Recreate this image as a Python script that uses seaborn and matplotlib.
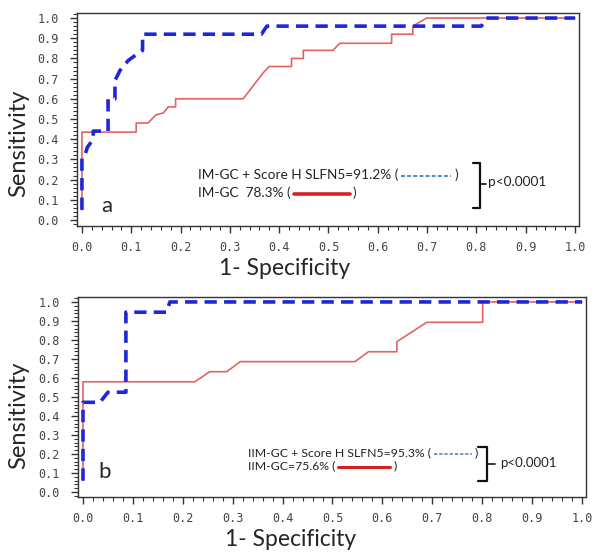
import numpy as np
import pandas as pd
import seaborn as sns
import matplotlib
matplotlib.use("Agg")
import matplotlib.pyplot as plt
from matplotlib.lines import Line2D
from matplotlib.ticker import MultipleLocator, FormatStrFormatter

# ---- data ----
a_blue_x = [0, 0, 0.006, 0.011, 0.023, 0.023, 0.053, 0.053, 0.067, 0.067, 0.077, 0.094, 0.111, 0.123, 0.123, 0.364, 0.375, 0.81, 0.82, 1.0]
a_blue_y = [0.05, 0.31, 0.32, 0.36, 0.40, 0.44, 0.44, 0.60, 0.60, 0.69, 0.74, 0.79, 0.82, 0.84, 0.92, 0.92, 0.96, 0.96, 1.0, 1.0]
a_red_x = [0, 0, 0.11, 0.11, 0.134, 0.15, 0.165, 0.175, 0.19, 0.19, 0.327, 0.368, 0.38, 0.425, 0.425, 0.449, 0.449, 0.509, 0.523, 0.628, 0.628, 0.671, 0.671, 0.699, 1.0]
a_red_y = [0.05, 0.435, 0.435, 0.48, 0.48, 0.52, 0.53, 0.56, 0.56, 0.60, 0.60, 0.73, 0.76, 0.76, 0.80, 0.80, 0.84, 0.84, 0.875, 0.875, 0.92, 0.92, 0.96, 1.0, 1.0]

b_blue_x = [0, 0, 0.034, 0.05, 0.086, 0.086, 0.168, 0.174, 1.0]
b_blue_y = [0.06, 0.472, 0.472, 0.525, 0.525, 0.946, 0.946, 1.0, 1.0]
b_red_x = [0, 0, 0.224, 0.254, 0.288, 0.315, 0.545, 0.572, 0.629, 0.629, 0.689, 0.801, 0.801, 1.0]
b_red_y = [0.06, 0.58, 0.58, 0.633, 0.633, 0.686, 0.686, 0.738, 0.738, 0.791, 0.893, 0.893, 1.0, 1.0]

a_legend = ["IM-GC + Score H SLFN5=91.2% (", "IM-GC  78.3% ("]
b_legend = ["IIM-GC + Score H SLFN5=95.3% (", "IIM-GC=75.6% ("]
p_text = "p<0.0001"
panel_labels = ["a", "b"]
xlabel = "1- Specificity"
ylabel = "Sensitivity"

BLUE = "#1f26d8"
RED = "#e46262"
LEG_BLUE = "#3c82c8"
LEG_RED = "#d42222"

sns.set_style("white")
plt.rcParams["font.family"] = ["Lato", "DejaVu Sans"]

W, H = 602, 557
fig = plt.figure(figsize=(W / 100, H / 100), dpi=100)


def fx(x):
    return x / W


def fy(y):
    return 1 - y / H


def make_df(bx, by, rx, ry):
    d1 = pd.DataFrame({"x": bx, "y": by, "s": "blue", "o": range(len(bx))})
    d2 = pd.DataFrame({"x": rx, "y": ry, "s": "red", "o": range(len(rx))})
    return d1, d2


def setup_axes(rect, xlim, ylim):
    ax = fig.add_axes(rect)
    ax.set_xlim(*xlim)
    ax.set_ylim(*ylim)
    ax.xaxis.set_major_locator(MultipleLocator(0.1))
    ax.xaxis.set_minor_locator(MultipleLocator(0.02))
    ax.yaxis.set_major_locator(MultipleLocator(0.1))
    ax.yaxis.set_minor_locator(MultipleLocator(0.02))
    ax.xaxis.set_major_formatter(FormatStrFormatter("%.1f"))
    ax.yaxis.set_major_formatter(FormatStrFormatter("%.1f"))
    ax.tick_params(which="major", direction="out", length=5, width=1, color="#333333",
                   bottom=True, left=True, labelsize=8.5, labelcolor="#444444")
    ax.tick_params(which="minor", direction="out", length=3, width=0.8, color="#333333",
                   bottom=True, left=True)
    ax.tick_params(axis="x", which="major", pad=6)
    ax.tick_params(axis="y", which="major", pad=8)
    for sp in ax.spines.values():
        sp.set_color("#333333")
        sp.set_linewidth(1.0)
    return ax


def draw_curves(ax, bx, by, rx, ry):
    d1, d2 = make_df(bx, by, rx, ry)
    sns.lineplot(data=d2, x="x", y="y", sort=False, estimator=None, color=RED,
                 linewidth=1.2, ax=ax, legend=False)
    sns.lineplot(data=d1, x="x", y="y", sort=False, estimator=None, color=BLUE,
                 linewidth=2.6, ax=ax, legend=False)
    ax.lines[-1].set_dashes([3.4, 2.0])
    ax.set_xlabel("")
    ax.set_ylabel("")


# panel a
ax1 = setup_axes([fx(77), fy(226), fx(579) - fx(77), fy(13) - fy(226)], (-0.010, 1.008), (-0.030, 1.025))
draw_curves(ax1, a_blue_x, a_blue_y, a_red_x, a_red_y)
# panel b
ax2 = setup_axes([fx(78), fy(497), fx(586) - fx(78), fy(297) - fy(497)], (-0.010, 1.008), (-0.026, 1.026))
draw_curves(ax2, b_blue_x, b_blue_y, b_red_x, b_red_y)

for ax in (ax1, ax2):
    for lab in ax.get_xticklabels() + ax.get_yticklabels():
        lab.set_family("DejaVu Sans Mono")

# axis labels
fig.text(fx(19), fy(143), ylabel, rotation=90, ha="center", va="center", fontsize=17)
fig.text(fx(285), fy(268), xlabel, ha="center", va="center", fontsize=16.5)
fig.text(fx(19), fy(415), ylabel, rotation=90, ha="center", va="center", fontsize=17)
fig.text(fx(291), fy(539), xlabel, ha="center", va="center", fontsize=16.5)

# panel letters
fig.text(fx(107), fy(206), panel_labels[0], ha="center", va="center", fontsize=16)
fig.text(fx(105), fy(472), panel_labels[1], ha="center", va="center", fontsize=16)

fig.canvas.draw()
renderer = fig.canvas.get_renderer()


def legend_line(x0, y, text, size, seglen, color, ls, lw):
    t = fig.text(fx(x0), fy(y), text, ha="left", va="center", fontsize=size, color="#222222")
    bb = t.get_window_extent(renderer)
    xe = bb.x1 / fig.dpi * 100
    l = Line2D([fx(xe + 3), fx(xe + 3 + seglen)], [fy(y + 0.5), fy(y + 0.5)],
               transform=fig.transFigure, color=color, linestyle=ls, linewidth=lw)
    if ls == "--":
        l.set_dashes([2.2, 1.2])
    fig.add_artist(l)
    fig.text(fx(xe + 6 + seglen), fy(y), ")", ha="left", va="center", fontsize=size, color="#222222")


legend_line(198, 175, a_legend[0], 9.8, 50, LEG_BLUE, "--", 1.3)
legend_line(198, 193, a_legend[1], 9.8, 56, LEG_RED, "-", 2.6)
legend_line(248, 453, b_legend[0], 8.8, 38, LEG_BLUE, "--", 1.1)
legend_line(248, 466, b_legend[1], 8.8, 52, LEG_RED, "-", 2.2)


def bracket(xl, xr, yt, yb, ym, nub):
    pts_x = [xl, xr, xr, xl]
    pts_y = [yt, yt, yb, yb]
    fig.add_artist(Line2D([fx(v) for v in pts_x], [fy(v) for v in pts_y],
                          transform=fig.transFigure, color="#111111", linewidth=1.6))
    fig.add_artist(Line2D([fx(xr), fx(xr + nub)], [fy(ym), fy(ym)],
                          transform=fig.transFigure, color="#111111", linewidth=1.2))


bracket(473, 480, 163, 208, 184, 6)
fig.text(fx(488), fy(182), p_text, ha="left", va="center", fontsize=9.8, color="#222222")
bracket(478, 487, 447, 481, 464, 8)
fig.text(fx(500), fy(463), p_text, ha="left", va="center", fontsize=9.5, color="#222222")

fig.savefig("out.png", dpi=100)
